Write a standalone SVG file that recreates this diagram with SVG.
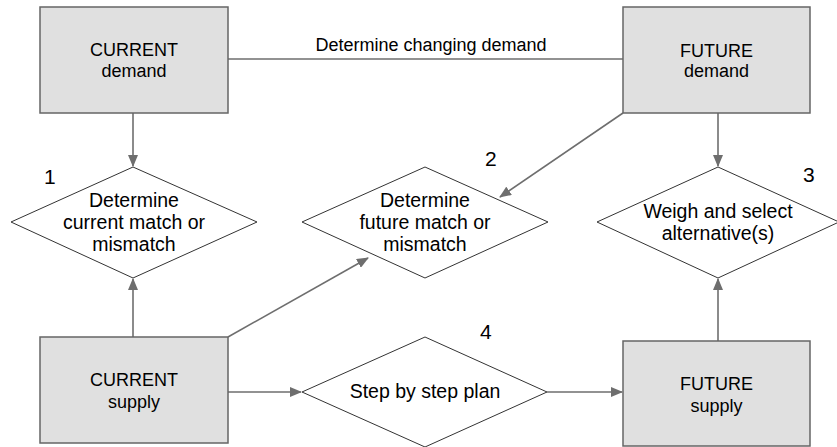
<svg xmlns="http://www.w3.org/2000/svg" width="837" height="447" viewBox="0 0 837 447">
<style>
.box{fill:#e0e0e0;stroke:#666;stroke-width:1.5}
.dia{fill:#fff;stroke:#333;stroke-width:1}
.t{font-family:"Liberation Sans",Arial,sans-serif;font-size:18px;fill:#000;text-anchor:middle}
.d{font-size:19.5px}
.n{font-family:"Liberation Sans",Arial,sans-serif;font-size:21px;fill:#000}
.c{stroke:#6e6e6e;stroke-width:1.6;fill:none}
.a{marker-end:url(#ah)}
</style>
<defs>
<marker id="ah" markerUnits="userSpaceOnUse" markerWidth="12" markerHeight="10" refX="11" refY="5" orient="auto">
<path d="M0,0 L12,5 L0,10 Z" fill="#6e6e6e"/>
</marker>
</defs>
<rect width="837" height="447" fill="#fff"/>
<g id="connectors">
<line class="c" x1="228" y1="59" x2="623" y2="59"/>
<line class="c a" x1="133" y1="113" x2="133" y2="166"/>
<line class="c a" x1="133" y1="337" x2="133" y2="279"/>
<line class="c a" x1="228" y1="337" x2="368" y2="258"/>
<line class="c a" x1="623" y1="113" x2="500" y2="197"/>
<line class="c a" x1="718" y1="113" x2="718" y2="166"/>
<line class="c a" x1="718" y1="341" x2="718" y2="279"/>
<line class="c a" x1="228" y1="392" x2="301" y2="392"/>
<line class="c a" x1="547" y1="392" x2="622" y2="392"/>
<text class="t" x="431" y="51">Determine changing demand</text>
</g>
<g id="current-demand">
<rect class="box" x="40" y="7" width="188" height="106"/>
<text class="t" x="134" y="56">CURRENT</text>
<text class="t" x="134" y="77">demand</text>
</g>
<g id="future-demand">
<rect class="box" x="623" y="7" width="187" height="106"/>
<text class="t" x="716.5" y="57">FUTURE</text>
<text class="t" x="716.5" y="77">demand</text>
</g>
<g id="current-supply">
<rect class="box" x="40" y="337" width="188" height="106"/>
<text class="t" x="134" y="386">CURRENT</text>
<text class="t" x="134" y="408">supply</text>
</g>
<g id="future-supply">
<rect class="box" x="623" y="341" width="187" height="105"/>
<text class="t" x="716.5" y="390">FUTURE</text>
<text class="t" x="716.5" y="412">supply</text>
</g>
<g id="d1">
<polygon class="dia" points="133,167 257,222 133,278 11,222"/>
<text class="t d" x="134" y="207">Determine</text>
<text class="t d" x="134" y="229">current match or</text>
<text class="t d" x="134" y="251">mismatch</text>
<text class="n" x="44" y="184">1</text>
</g>
<g id="d2">
<polygon class="dia" points="425,167 548,222 425,278 302,222"/>
<text class="t d" x="425" y="207">Determine</text>
<text class="t d" x="425" y="229">future match or</text>
<text class="t d" x="425" y="251">mismatch</text>
<text class="n" x="485" y="166">2</text>
</g>
<g id="d3">
<polygon class="dia" points="718,167 839,222 718,278 597,222"/>
<text class="t d" x="718" y="218">Weigh and select</text>
<text class="t d" x="718" y="240">alternative(s)</text>
<text class="n" x="803" y="182">3</text>
</g>
<g id="d4">
<polygon class="dia" points="425,337 547,392 425,447 302,392"/>
<text class="t d" x="425" y="398">Step by step plan</text>
<text class="n" x="480" y="339">4</text>
</g>
</svg>
